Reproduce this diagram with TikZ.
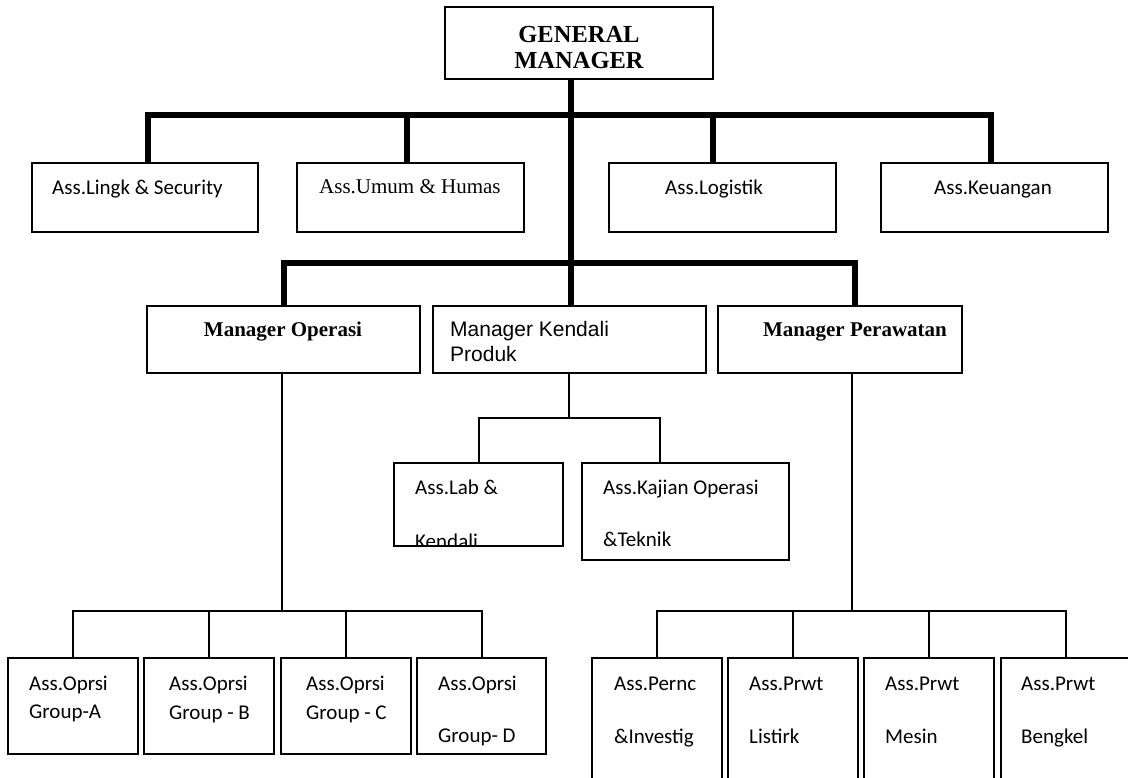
\documentclass[tikz,border=0pt]{standalone}
\usepackage{fontspec}
\setmainfont{Liberation Serif}
\newfontfamily\calfont{Carlito}
\newfontfamily\arialfont{Liberation Sans}
\begin{document}
\begin{tikzpicture}[x=1pt,y=-1pt,
  box/.style={draw,line width=1.8pt,rectangle,inner sep=0pt,outer sep=0pt},
  thk/.style={line width=5.5pt},
  thn/.style={line width=2pt},
  cal/.style={inner sep=0pt,font=\calfont\fontsize{21}{25}\selectfont},
  tnr/.style={inner sep=0pt,font=\fontsize{21}{25}\selectfont},
  tnrb/.style={inner sep=0pt,font=\bfseries\fontsize{21}{25}\selectfont},
  gmfont/.style={inner sep=0pt,font=\bfseries\fontsize{24.5}{28}\selectfont},
  ari/.style={inner sep=0pt,font=\arialfont\fontsize{21}{25}\selectfont}]
\useasboundingbox (0,0) rectangle (1128,778);
\clip (0,0) rectangle (1128,778);
% boxes
\node[box,minimum width=268pt,minimum height=72pt] (gm) at (579,43) {};
\node[box,minimum width=226pt,minimum height=69pt] (lingk) at (145,197.5) {};
\node[box,minimum width=227pt,minimum height=69pt] (umum) at (410.5,197.5) {};
\node[box,minimum width=227pt,minimum height=69pt] (logis) at (722.5,197.5) {};
\node[box,minimum width=227pt,minimum height=69pt] (keu) at (994.5,197.5) {};
\node[box,minimum width=273pt,minimum height=67pt] (oper) at (283.5,339.5) {};
\node[box,minimum width=273pt,minimum height=67pt] (kendali) at (569.5,339.5) {};
\node[box,minimum width=244pt,minimum height=67pt] (pera) at (840,339.5) {};
\node[box,minimum width=169pt,minimum height=83pt] (lab) at (478.5,504.5) {};
\node[box,minimum width=207pt,minimum height=97pt] (kajian) at (685.5,511.5) {};
\node[box,minimum width=130pt,minimum height=96pt] (ga) at (73,706) {};
\node[box,minimum width=130pt,minimum height=96pt] (gb) at (209,706) {};
\node[box,minimum width=130pt,minimum height=96pt] (gc) at (346,706) {};
\node[box,minimum width=129pt,minimum height=96pt] (gd) at (481.5,706) {};
\node[box,minimum width=130pt,minimum height=132pt] (p1) at (657,724) {};
\node[box,minimum width=130pt,minimum height=132pt] (p2) at (793,724) {};
\node[box,minimum width=130pt,minimum height=132pt] (p3) at (929,724) {};
\node[box,minimum width=130pt,minimum height=132pt] (p4) at (1066,724) {};
% junction coordinates
\coordinate (s1) at (148,115);
\coordinate (s2) at (407,115);
\coordinate (s3) at (713,115);
\coordinate (s4) at (991,115);
\coordinate (trunk) at (571,115);
\coordinate (t1) at (284,263);
\coordinate (t3) at (855,263);
\coordinate (k1) at (479,418);
\coordinate (k2) at (660,418);
\coordinate (kd) at (569,418);
\coordinate (od) at (282,611);
\coordinate (pd) at (852,611);
% thick connectors
\draw[thk] (s1 |- lingk.north) -- (s1) -- (s4) -- (s4 |- keu.north);
\draw[thk] (s2) -- (s2 |- umum.north);
\draw[thk] (s3) -- (s3 |- logis.north);
\draw[thk] (gm.south -| trunk) -- (kendali.north -| trunk);
\draw[thk] (t1 |- oper.north) -- (t1) -- (t3) -- (t3 |- pera.north);
% thin connectors
\draw[thn] (kd |- kendali.south) -- (kd);
\draw[thn] (k1 |- lab.north) -- (k1) -- (k2) -- (k2 |- kajian.north);
\draw[thn] (od |- oper.south) -- (od);
\draw[thn] (ga.north) -- (ga.north |- od) -- (gd.north |- od) -- (gd.north);
\draw[thn] (gb.north) -- (gb.north |- od);
\draw[thn] (gc.north) -- (gc.north |- od);
\draw[thn] (pd |- pera.south) -- (pd);
\draw[thn] (p1.north) -- (p1.north |- pd) -- (p4.north |- pd) -- (p4.north);
\draw[thn] (p2.north) -- (p2.north |- pd);
\draw[thn] (p3.north) -- (p3.north |- pd);
% texts
\node[gmfont,anchor=base] (tgm1) at (579,43) {GENERAL};
\node[gmfont,anchor=base] (tgm2) at (579,69) {MANAGER};
\node[cal,anchor=base west] (tlingk) at (52,195) {Ass.Lingk \& Security};
\node[tnr,anchor=base west] (tumum) at (319,194) {Ass.Umum \& Humas};
\node[cal,anchor=base west] (tlogis) at (665,195) {Ass.Logistik};
\node[cal,anchor=base west] (tkeu) at (934,195) {Ass.Keuangan};
\node[tnrb,anchor=base] (toper) at (283,337) {Manager Operasi};
\node[ari,anchor=base west] (tkend1) at (450,336) {Manager Kendali};
\node[ari,anchor=base west] (tkend2) at (450,361) {Produk};
\node[tnrb,anchor=base] (tpera) at (855,337) {Manager Perawatan};
\node[cal,anchor=base west] (tlab1) at (415,494) {Ass.Lab \&};
\begin{scope}
\clip (lab.north west) rectangle (lab.south east);
\node[cal,anchor=base west] (tlab2) at (415,548) {Kendali};
\end{scope}
\node[cal,anchor=base west] (tkaj1) at (603,494) {Ass.Kajian Operasi};
\node[cal,anchor=base west] (tkaj2) at (603,546) {\&Teknik};
\node[cal,anchor=base west] (tga1) at (29,690) {Ass.Oprsi};
\node[cal,anchor=base west] (tga2) at (29,718) {Group-A};
\node[cal,anchor=base west] (tgb1) at (169,690) {Ass.Oprsi};
\node[cal,anchor=base west] (tgb2) at (169,719) {Group - B};
\node[cal,anchor=base west] (tgc1) at (306,690) {Ass.Oprsi};
\node[cal,anchor=base west] (tgc2) at (306,719) {Group - C};
\node[cal,anchor=base west] (tgd1) at (438,690) {Ass.Oprsi};
\node[cal,anchor=base west] (tgd2) at (438,742) {Group- D};
\node[cal,anchor=base west] (tp11) at (614,690) {Ass.Pernc};
\node[cal,anchor=base west] (tp12) at (614,743) {\&Investig};
\node[cal,anchor=base west] (tp21) at (749,690) {Ass.Prwt};
\node[cal,anchor=base west] (tp22) at (749,743) {Listirk};
\node[cal,anchor=base west] (tp31) at (885,690) {Ass.Prwt};
\node[cal,anchor=base west] (tp32) at (885,743) {Mesin};
\node[cal,anchor=base west] (tp41) at (1021,690) {Ass.Prwt};
\node[cal,anchor=base west] (tp42) at (1021,743) {Bengkel};
\end{tikzpicture}
\end{document}
